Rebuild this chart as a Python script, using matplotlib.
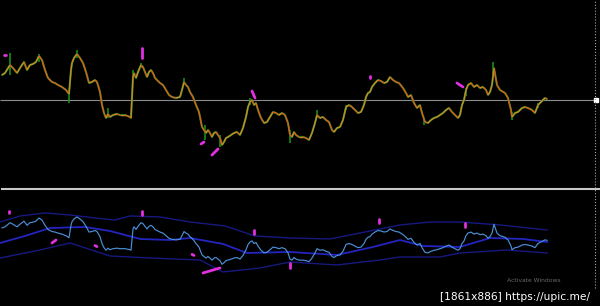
import numpy as np
import matplotlib
matplotlib.use("Agg")
import matplotlib.pyplot as plt
from matplotlib.collections import LineCollection
from matplotlib.lines import Line2D

# ---------------- data (price relative to reference level) ----------------
bars = [2, 5, 10, 13, 17, 20, 24, 27, 30, 33, 36, 39, 42, 45, 48, 52, 55, 58, 62, 66, 69, 71, 72, 74, 77,
        80, 83, 86, 89, 92, 95, 97, 100, 102, 104, 106, 108, 110, 113, 117, 120, 125, 130, 131, 133, 134,
        136, 138, 141, 143, 145, 147, 149, 151, 153, 155, 157, 160, 163, 166, 169, 172, 176, 180, 182, 184,
        186, 188, 190, 193, 196, 199, 202, 204, 206, 208, 210, 212, 214, 216, 218, 220, 222, 224, 226, 228,
        231, 234, 237, 240, 243, 246, 248, 250, 252, 254, 256, 258, 261, 264, 267, 270, 273, 276, 279, 282,
        285, 288, 290, 292, 294, 296, 299, 303, 306, 309, 312, 315, 317, 320, 323, 326, 329, 332, 334, 337,
        340, 343, 346, 349, 352, 355, 358, 361, 364, 366, 368, 370, 372, 375, 378, 381, 384, 387, 390, 393,
        396, 399, 403, 406, 408, 411, 414, 417, 420, 422, 425, 428, 431, 434, 437, 440, 443, 446, 449, 452,
        455, 458, 460, 462, 464, 466, 468, 471, 474, 477, 480, 483, 486, 488, 490, 492, 494, 497, 500, 505,
        508, 511, 512, 515, 518, 522, 525, 528, 532, 535, 538, 542, 545, 547]
close = [25, 27, 35, 32, 27, 32, 38, 30, 35, 36, 38, 44, 40, 30, 22, 18, 17, 15, 13, 10, 6, 30, 37, 42, 46,
         42, 37, 28, 17, 18, 20, 18, 8, -5, -13, -18, -14, -17, -15, -14, -15, -15, -17, -18, 23, 27,
         22, 28, 35, 33, 28, 23, 28, 30, 27, 22, 20, 17, 15, 10, 5, 3, 2, 3, 10, 18,
         15, 13, 8, 3, -5, -12, -27, -30, -33, -30, -33, -37, -33, -32, -35, -38, -45, -42, -38, -37,
         -35, -33, -32, -35, -28, -17, -7, -2, 0, -5, -3, -10, -18, -23, -22, -17, -12, -13, -15, -13,
         -15, -23, -35, -37, -32, -35, -37, -37, -38, -40, -33, -23, -15, -18, -17, -20, -22, -30, -32, -28,
         -27, -20, -7, -5, -7, -10, -13, -12, -5, 3, 7, 8, 13, 17, 20, 19, 17, 18, 23, 20,
         18, 17, 12, 7, 3, 5, -3, -8, -5, -13, -22, -23, -20, -18, -17, -15, -13, -10, -8, -12,
         -15, -18, -15, -5, 0, 10, 15, 17, 13, 15, 12, 13, 10, 5, 8, 15, 32, 15, 10, 7,
         2, -10, -17, -13, -12, -8, -7, -8, -10, -13, -5, -1, 2, 1]

# candle wick ranges (bar, low, high)
spike_bar = [10, 39, 69, 77, 108, 133, 141, 184, 205, 220, 250, 290, 317, 346, 424, 466, 493, 512, 538]
spike_low = [25, 38, -3, 42, -18, 22, 32, 15, -40, -47, -5, -43, -18, -10, -25, 4, 25, -20, -8]
spike_high = [47, 46, 8, 50, -8, 30, 37, 22, -25, -35, 2, -30, -10, -5, -18, 12, 38, -12, -3]

# indicator bands (lower panel)
upper_bar = [0, 20, 45, 70, 95, 115, 130, 160, 190, 225, 255, 290, 330, 365, 400, 430, 460, 500, 547]
upper_val = [36.3, 47.9, 53.7, 49.8, 44.0, 40.2, 47.9, 46.0, 36.3, 28.7, 9.4, 5.6, 3.7, 17.1, 30.6,
             36.3, 36.3, 30.6, 21.0]
mid_bar = [0, 25, 50, 85, 110, 140, 170, 190, 223, 247, 290, 337, 373, 400, 423, 460, 490, 523, 547]
mid_val = [-4.0, 9.4, 24.8, 26.7, 19.0, 3.7, 1.7, 5.6, -5.9, -23.3, -21.3, -27.1, -11.7, 1.7, -9.8,
           -11.7, 5.6, 3.7, -2.1]
lower_bar = [0, 40, 70, 110, 150, 200, 223, 260, 290, 337, 380, 400, 440, 460, 507, 547]
lower_val = [-32.9, -17.5, -4.0, -29.0, -32.9, -36.7, -59.8, -52.1, -40.6, -46.3, -36.7, -31.0, -31.0,
             -23.3, -17.5, -23.3]

# signal arrows (bar0, val0, bar1, val1)
top_arrows = [(4, 45, 6, 45), (142, 52, 142, 42), (201, -44, 204, -42), (212, -55, 218, -49),
              (252, 9, 255, 2), (370, 24, 370, 22), (457, 17, 463, 13)]
bot_arrows = [(9, 57, 9, 54), (142, 57.5, 142, 49.8), (52, -4, 56, 1.7), (95, -9, 97, -11),
              (192, -26, 194, -28), (203, -61.7, 220, -52.1), (254, 21, 254, 13.3),
              (290, -42.5, 290, -52.1), (379, 42, 379, 34.4), (465, 34.4, 465, 26.7)]

# ---------------- figure ----------------
W, H = 600, 306
fig = plt.figure(figsize=(W / 100, H / 100), dpi=100, facecolor="black")

ax1 = fig.add_axes([0, 1 - 187 / H, 1, 187 / H], facecolor="black")
ax2 = fig.add_axes([0, 0, 1, 114 / H], facecolor="black")
for ax in (ax1, ax2):
    ax.set_xlim(0, 600)
    ax.axis("off")
ax1.set_ylim(-87, 100)
ax2.set_ylim(-125.2, 94.0)

x = np.array(bars, dtype=float)
y = np.array(close, dtype=float)

# top panel: reference level
ax1.hlines(0, 0, 594, color="#8c8c8c", lw=0.8)
ax1.plot([596], [0], marker="s", ms=3, color="white")

# wicks / bars
ax1.vlines(spike_bar, spike_low, spike_high, color="#1a9a1a", lw=1.1)
ax1.plot(x, y, color="#137a13", lw=1.5, solid_capstyle="round")

# price line coloured by direction
pts = np.column_stack([x, y]).reshape(-1, 1, 2)
segs = np.concatenate([pts[:-1], pts[1:]], axis=1)
cols = ["#c98a2a" if y[i + 1] >= y[i] else "#d8601e" for i in range(len(y) - 1)]
ax1.add_collection(LineCollection(segs, colors=cols, linewidths=1.05))

for a in top_arrows:
    ax1.plot([a[0], a[2]], [a[1], a[3]], color="#e030e0", lw=2.0, solid_capstyle="round")

# lower panel
ax2.plot(upper_bar, upper_val, color="#181880", lw=1.0)
ax2.plot(lower_bar, lower_val, color="#181880", lw=1.0)
ax2.plot(mid_bar, mid_val, color="#2424c0", lw=1.3)
ax2.plot(x, y, color="#4a90d8", lw=0.85)
for a in bot_arrows:
    ax2.plot([a[0], a[2]], [a[1], a[3]], color="#e030e0", lw=2.0, solid_capstyle="round")

# separators
fig.add_artist(Line2D([0.003, 1.0], [1 - 189 / H, 1 - 189 / H], color="#c8c8c8", lw=1.5))
fig.add_artist(Line2D([595 / W, 595 / W], [1 - 288 / H, 1.0], color="#a8a8a8", lw=0.8, ls=":"))

fig.text(507 / W, 1 - 281 / H, "Activate Windows", color="#6a6a6a", fontsize=4.3,
         va="center", ha="left")
fig.text(440 / W, 1 - 297 / H, "[1861x886] https://upic.me/", color="white", fontsize=7.7,
         va="center", ha="left")

fig.savefig("out.png", dpi=100, facecolor="black")
